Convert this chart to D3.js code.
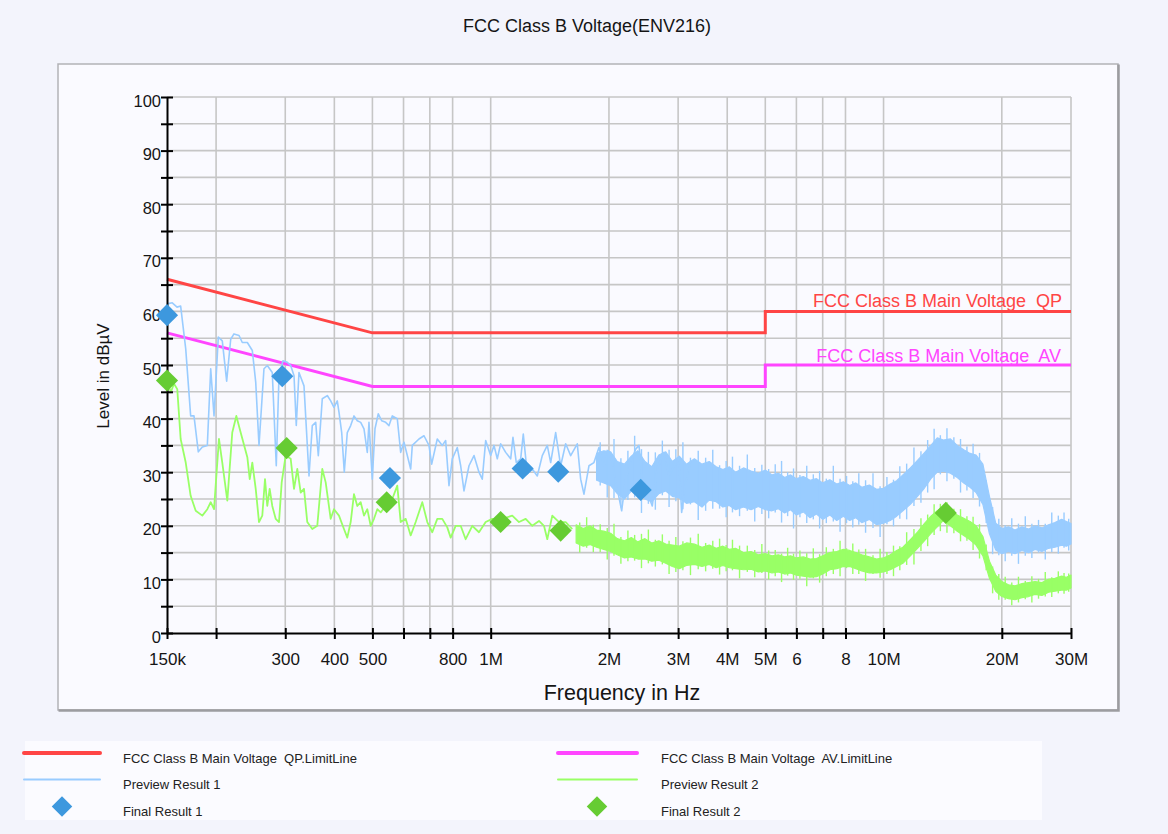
<!DOCTYPE html>
<html>
<head>
<meta charset="utf-8">
<script src="https://cdn.jsdelivr.net/npm/d3@7"></script>
<style>
  html, body { margin: 0; padding: 0; background: #f3f4fc; }
  svg { display: block; font-family: "Liberation Sans", Arial, Helvetica, sans-serif; }
</style>
</head>
<body>
<svg id="chart" width="1168" height="834"></svg>
<script>
// ---------------- data (frequencies in MHz, levels in dBµV) ----------------
const titleText = "FCC Class B Voltage(ENV216)";

const xTickValues = [0.15, 0.2, 0.3, 0.4, 0.5, 0.6, 0.7, 0.8, 1, 2, 3, 4, 5, 6, 7, 8, 10, 20, 30];
const xTickText   = ["150k", "", "300", "400", "500", "", "", "800", "1M", "2M", "3M", "4M", "5M", "6", "", "8", "10M", "20M", "30M"];
const yTickValues = [0, 5, 10, 15, 20, 25, 30, 35, 40, 45, 50, 55, 60, 65, 70, 75, 80, 85, 90, 95, 100];
const yTickText   = ["0", "", "10", "", "20", "", "30", "", "40", "", "50", "", "60", "", "70", "", "80", "", "90", "", "100"];

// limit lines
const limitQPFreq  = [0.15, 0.5, 5, 5, 30];
const limitQPLevel = [66, 56, 56, 60, 60];
const limitAVFreq  = [0.15, 0.5, 5, 5, 30];
const limitAVLevel = [56, 46, 46, 50, 50];

// Preview Result 1 (peak scan): individual sweep points
const preview1Freq = [0.150,0.1547,0.1591,0.1625,0.1674,0.1723,0.1757,0.1802,0.1845,0.190,
  0.1938,0.1976,0.2026,0.2074,0.2128,0.2179,0.2221,0.2288,0.2332,0.2402,
  0.2473,0.2523,0.2572,0.2648,0.270,0.278,0.2846,0.2892,0.296,0.3036,
  0.3097,0.3158,0.320,0.3251,0.3348,0.3448,0.3515,0.3586,0.3641,0.3727,
  0.3838,0.3915,0.3991,0.4069,0.411,0.4176,0.424,0.4315,0.4402,0.4488,
  0.4576,0.4668,0.4759,0.4852,0.490,0.4996,0.5076,0.5175,0.5279,0.5404,
  0.551,0.5617,0.5784,0.5901,0.6016,0.6257,0.6316,0.6569,0.6764,0.6965,
  0.7076,0.7312,0.753,0.7681,0.7832,0.7984,0.8222,0.8387,0.8551,0.8806,
  0.9068,0.9337,0.9519,0.9711,1.000,1.0195,1.0394,1.0604,1.0919,1.1244,
  1.1395,1.1619,1.1922,1.2105,1.2393,1.2761,1.314,1.3531,1.3933,1.4214,
  1.4636,1.5071,1.5519,1.5981,1.6611,1.6944,1.7275,1.7789,1.8317,1.8862,
  1.9423,1.992,2.0392,2.0999,2.1548,2.2058,2.2714,2.339,2.3848,2.4313,
  2.5036,2.578,2.6547,2.761,2.8432,2.9277,3.0147,3.0627,3.1353,3.2285];
const preview1Level = [61.4,61.6,60.8,61,53,40.5,40.5,33.8,34.7,35,
  49.3,40.5,55.2,54.5,47,54.8,55.8,55.5,54.2,54.2,
  52.7,46.8,35,49.3,49.9,48.6,31.2,48,50.8,50.5,
  49.9,48,38.7,48.6,46.1,29.3,38.7,39.3,33.1,43.7,
  44.3,43.3,42.1,43.3,41.2,37.4,30,37.4,38.7,40.5,
  39.6,39.3,38.1,33.7,39.3,28.7,38.1,40.9,39.6,39.3,
  38.7,40.5,40.0,33.7,35.6,30.6,35,36.2,36.8,35,
  31.5,36.2,35,35.9,27.5,32.5,34.6,31.2,26.5,31.2,
  33.1,30,28.7,35.9,33.1,35,32.5,35.3,33.7,32.5,
  36.5,31.8,32.5,37.1,29.7,30.6,29.3,33.1,35,31.8,
  37.4,31.2,35.3,33.1,35.3,28.7,25.9,31.2,31.8,34.6,
  31.2,34,31.8,26.9,22.8,28.7,31.8,34.3,35,28.7,
  26.2,23.7,30.6,33.7,29.3,31.2,31.8,22.5,28.1,32.1];

// Preview Result 1: dense upper band, min/max envelope per frequency
const preview1BandFreq = [1.86,1.94,2.02,2.1,2.19,2.28,2.37,2.47,2.57,2.68,2.79,2.9,3.02,3.15,
  3.3,3.45,3.6,3.75,3.9,4.05,4.2,4.4,4.6,4.8,5.0,5.2,5.4,5.6,5.8,6.0,6.25,6.5,6.75,7.0,
  7.3,7.6,7.9,8.2,8.5,8.8,9.2,9.6,10.0,10.4,10.8,11.2,11.7,12.2,12.7,13.2,13.7,14.2,14.8,15.4,
  16.0,16.6,17.2,17.9,18.6,19.3,20.0,20.8,21.6,22.5,23.4,24.3,25.3,26.3,27.3,28.4,29.2,30.0];
const preview1BandHigh = [33.5,34.0,33.8,32.0,31.5,33.0,34.0,32.0,31.0,33.2,33.8,32.0,33.0,31.5,
  32.5,31.5,32.0,31.0,30.5,31.0,30.0,30.8,30.2,29.8,30.4,29.5,29.8,29.0,29.5,28.8,29.2,28.5,28.8,28.0,
  28.6,27.8,28.2,27.5,28.0,27.2,27.6,26.8,27.0,27.8,28.4,29.5,30.8,32.2,33.6,35.0,36.4,36.0,36.2,35.0,
  34.2,33.5,33.2,31.5,25.5,20.5,19.5,19.8,19.2,19.8,19.4,20.0,19.6,20.2,20.6,21.2,20.8,20.4];
const preview1BandLow = [28.5,28.0,27.5,26.0,25.0,26.5,26.8,25.0,24.5,26.0,26.5,25.5,25.2,24.2,
  24.5,23.5,24.8,24.5,23.5,23.8,23.0,23.5,23.0,23.6,23.0,22.8,23.2,22.4,23.0,22.0,22.6,21.5,22.2,21.2,
  22.0,21.0,21.8,21.0,21.5,20.6,21.2,20.2,20.5,21.0,21.8,22.8,24.0,25.5,27.0,28.8,30.0,30.2,29.8,29.0,
  28.0,27.2,26.2,24.0,18.5,15.5,14.8,15.2,14.8,15.4,15.0,15.6,15.2,15.8,16.0,16.4,16.2,16.6];
// Preview Result 1: noise spikes reaching past the band
const preview1SpikeFreq = [1.90,1.98,2.06,2.145,2.235,2.325,2.42,2.52,2.625,2.735,
  2.845,2.96,3.085,3.225,3.375,3.525,3.675,3.825,3.975,4.125,
  4.3,4.5,4.7,4.9,5.1,5.3,5.5,5.7,5.9,6.125,
  6.375,6.625,6.875,7.15,7.45,7.75,8.05,8.35,8.65,9.0,
  9.4,9.8,10.2,10.6,11.0,11.45,11.95,12.45,12.95,13.45,
  13.95,14.5,15.1,15.7,16.3,16.9,17.55,18.25,18.95,19.65,
  20.4,21.2,22.05,22.95,23.85,24.8,25.8,26.8,27.85,28.8,29.6];
const preview1SpikeHigh = [35.6,34.2,36.2,32.6,34.0,36.8,34.3,33.8,33.7,35.9,
  34.2,34.3,35.6,32.7,34.0,32.7,34.2,31.3,32.1,32.9,
  31.2,33.3,30.8,31.4,30.6,31.5,32.1,30.0,30.7,29.5,
  31.2,29.6,30.2,28.8,31.2,28.8,29.3,28.3,29.8,28.5,
  29.8,27.4,29.1,28.6,31.1,31.6,34.6,33.9,36.0,38.1,
  36.9,38.2,36.5,36.2,34.8,35.3,33.6,28.5,23.5,21.3,
  20.1,21.4,20.4,21.8,20.4,21.1,20.4,22.5,21.9,22.5,21.3];
const preview1SpikeLow = [27.5,25.3,25.2,23.4,24.8,25.3,22.4,24.1,23.0,25.7,
  23.5,24.6,23.1,24.0,21.1,22.8,23.2,23.2,21.6,22.5,
  21.8,22.8,20.8,22.2,21.4,22.5,20.6,21.8,19.5,21.6,
  20.5,21.2,19.5,20.5,20.8,18.9,20.5,19.7,20.2,18.7,
  19.6,17.9,20.3,19.9,21.3,21.2,23.7,24.3,26.2,26.8,
  29.6,28.3,28.8,26.2,26.6,25.2,23.6,20.5,14.7,14.5,
  13.4,14.4,12.9,14.4,14.0,15.0,13.7,15.1,14.8,15.9,15.4];

// Preview Result 2 (average scan): individual sweep points
const preview2Freq = [0.150,0.1533,0.1563,0.1593,0.1625,0.1674,0.1723,0.1775,0.1845,0.190,
  0.1938,0.1976,0.2034,0.2074,0.2136,0.2199,0.2252,0.231,0.2402,0.2436,
  0.2473,0.2523,0.2572,0.2622,0.2664,0.270,0.2738,0.278,0.2836,0.2892,
  0.2938,0.3007,0.3097,0.3158,0.3219,0.3284,0.3348,0.3413,0.3515,0.3619,
  0.3727,0.3802,0.3915,0.3991,0.411,0.4232,0.4315,0.4402,0.4488,0.4576,
  0.4668,0.4759,0.4852,0.4949,0.5046,0.5145,0.5248,0.5404,0.5617,0.5784,
  0.5901,0.6076,0.6257,0.6443,0.6697,0.6896,0.7101,0.7312,0.753,0.7754,
  0.791,0.8145,0.8387,0.8636,0.8977,0.9337,0.9711,1.0094,1.0703,1.1348,
  1.1803,1.2277,1.2761,1.3272,1.3667,1.3933,1.4347,1.4922,1.5519,1.6131];
const preview2Level = [47.4,44.9,46.5,45.5,36.2,31.8,25.6,22.8,21.9,23.1,
  24.4,23.1,36.2,31.8,24.7,37.4,40.5,37.4,32.8,28.7,
  31.8,26.9,20.7,21.9,28.7,23.7,26.9,23.7,21.3,20.7,
  28.1,33.1,32.5,26.9,30.6,26.2,26.9,20.7,19.4,20,
  30.6,28.1,21.3,23.1,21.9,19.4,17.8,20.7,25.9,23.7,
  24.4,21.9,23.1,20,21.3,23.1,22.5,23.7,25,27.5,
  20.7,21.3,18.2,20.7,24.4,20.7,18.8,21.3,21.3,19.7,
  17.8,20,20,17.5,20,18.8,20.7,21.3,21.3,21.9,
  20.7,21.3,20,20.9,20,17.5,21.9,20.7,20.7,19.4];

// Preview Result 2: dense upper band, min/max envelope per frequency
const preview2BandFreq = [1.65,1.72,1.79,1.86,1.94,2.02,2.1,2.19,2.28,2.37,2.47,2.57,2.68,2.79,2.9,3.02,3.15,
  3.3,3.45,3.6,3.75,3.9,4.05,4.2,4.4,4.6,4.8,5.0,5.2,5.4,5.6,5.8,6.0,6.25,6.5,6.75,7.0,
  7.3,7.6,7.9,8.2,8.5,8.8,9.2,9.6,10.0,10.4,10.8,11.2,11.7,12.2,12.7,13.2,13.7,14.2,14.8,15.4,
  16.0,16.6,17.2,17.9,18.6,19.3,20.0,20.8,21.6,22.5,23.4,24.3,25.3,26.3,27.3,28.4,29.2,30.0];
const preview2BandHigh = [20.2,19.5,20.0,19.2,19.0,18.6,17.6,17.2,17.8,17.0,17.6,16.8,17.2,16.6,16.4,16.2,16.8,
  16.6,16.0,16.4,15.8,16.2,15.6,15.8,15.0,15.2,14.6,14.8,14.4,14.6,14.2,14.4,14.0,14.2,13.8,13.9,14.4,
  15.0,15.2,15.6,15.4,15.0,14.6,14.2,13.8,14.0,14.6,15.4,16.0,17.4,18.8,20.4,21.8,22.8,23.6,23.0,22.0,
  21.4,20.8,20.0,18.0,13.4,10.8,9.6,9.0,8.8,9.2,9.4,9.6,9.4,10.0,10.2,10.6,10.4,10.8];
const preview2BandLow = [16.8,16.2,16.5,16.0,15.6,15.2,14.6,14.0,14.2,13.8,13.8,13.4,13.6,13.0,12.4,12.0,12.6,
  12.8,12.4,12.8,12.2,12.6,12.2,12.0,11.8,11.9,11.4,11.6,11.2,11.4,11.0,11.2,10.8,10.6,10.4,10.5,11.0,
  11.8,12.0,12.4,12.4,12.0,11.6,11.2,11.2,11.4,11.8,12.4,13.0,14.4,15.8,17.2,18.6,19.8,21.0,20.0,19.0,
  18.2,17.4,16.4,14.4,10.2,7.8,6.8,6.4,6.2,6.6,6.8,7.2,7.0,7.6,7.8,8.0,8.0,8.4];
// Preview Result 2: noise spikes reaching past the band
const preview2SpikeFreq = [1.685,1.755,1.825,
  1.90,1.98,2.06,2.145,2.235,2.325,2.42,2.52,2.625,2.735,
  2.845,2.96,3.085,3.225,3.375,3.525,3.675,3.825,3.975,4.125,
  4.3,4.5,4.7,4.9,5.1,5.3,5.5,5.7,5.9,6.125,
  6.375,6.625,6.875,7.15,7.45,7.75,8.05,8.35,8.65,9.0,
  9.4,9.8,10.2,10.6,11.0,11.45,11.95,12.45,12.95,13.45,
  13.95,14.5,15.1,15.7,16.3,16.9,17.55,18.25,18.95,19.65,
  20.4,21.2,22.05,22.95,23.85,24.8,25.8,26.8,27.85,28.8,29.6];
const preview2SpikeHigh = [20.6,21.6,20.2,
  20.3,19.6,20.4,17.9,19.1,18.3,18.5,19.3,17.4,18.4,
  17.2,17.9,17.1,17.8,18.5,16.8,17.2,17.6,16.4,17.4,
  16.3,16.3,15.5,16.6,15.4,15.5,14.8,15.9,14.8,15.4,
  14.9,15.8,14.7,16.0,15.7,17.2,15.8,16.7,15.6,15.7,
  14.5,15.7,15.1,16.3,16.2,18.8,19.4,21.4,22.1,24.0,
  24.1,24.4,23.2,23.1,21.8,21.7,20.3,16.5,12.4,11.0,
  10.5,9.4,10.5,9.7,10.6,10.1,11.4,10.4,11.5,11.2,11.1];
const preview2SpikeLow = [15.0,15.9,15.1,
  15.1,13.7,14.4,12.9,13.4,13.5,12.1,13.0,12.4,12.8,
  11.0,11.4,11.7,10.8,11.9,11.5,12.0,10.9,11.5,11.7,
  10.2,11.4,10.4,11.2,10.0,10.6,9.5,10.7,9.9,10.1,
  8.7,10.2,9.4,10.6,11.0,10.6,12.1,11.0,11.0,9.7,
  11.0,10.3,11.0,10.6,11.7,12.7,12.8,15.3,16.2,18.3,
  19.0,18.7,18.6,17.1,17.2,15.5,13.9,11.7,7.4,6.2,
  6.2,5.2,5.7,6.3,5.7,6.4,6.8,6.7,7.4,7.3,7.7];

// Final measurements
const final1Freq  = [0.150, 0.2948, 0.554, 1.206, 1.486, 2.409];
const final1Level = [59.3, 47.9, 28.9, 30.7, 30.1, 26.7];
const final2Freq  = [0.150, 0.3025, 0.5436, 1.060, 1.507, 14.4];
const final2Level = [47.1, 34.5, 24.4, 20.7, 19.1, 22.4];

// ---------------- drawing ----------------
const svg = d3.select("#chart");
const C = {
  qp: "#ff4545", av: "#ff45ff",
  pre1: "#99ccff", pre2: "#99ff66",
  fin1: "#3d98de", fin2: "#66cc33",
  grid: "#c6c6c6", text: "#151515"
};

const x = d3.scaleLog().domain([0.15, 30]).range([167, 1071]);
const y = d3.scaleLinear().domain([0, 100]).range([633, 97]);

// page + frame
svg.append("rect").attr("width", 1168).attr("height", 834).attr("fill", "#f3f4fc");
svg.append("rect").attr("x", 58).attr("y", 64).attr("width", 1060).attr("height", 646)
  .attr("fill", "#fafaff").attr("stroke", "#b2b2b6").attr("stroke-width", 1.5);
svg.append("path").attr("d", "M1118.5,64.5V710.5H58.5")
  .attr("fill", "none").attr("stroke", "#9c9ca0").attr("stroke-width", 2.5);

// title
svg.append("text").attr("x", 587).attr("y", 32).attr("text-anchor", "middle")
  .attr("font-size", 18).attr("fill", C.text).text(titleText);

// grid
const grid = svg.append("g");
grid.selectAll("line.h").data(yTickValues.filter(v => v > 0)).join("line")
  .attr("x1", x(0.15)).attr("x2", x(30))
  .attr("y1", d => y(d)).attr("y2", d => y(d))
  .attr("stroke", C.grid).attr("stroke-width", 1.6);
grid.selectAll("line.v").data(xTickValues.filter(v => v > 0.15)).join("line")
  .attr("x1", d => x(d)).attr("x2", d => x(d))
  .attr("y1", y(0)).attr("y2", y(100))
  .attr("stroke", C.grid).attr("stroke-width", 1.6);

const line = d3.line().x(d => x(d[0])).y(d => y(d[1]));
const area = d3.area().x(d => x(d[0])).y0(d => y(d[1])).y1(d => y(d[2]));

// limit lines
svg.append("path").datum(d3.zip(limitQPFreq, limitQPLevel)).attr("d", line)
  .attr("fill", "none").attr("stroke", C.qp).attr("stroke-width", 3);
svg.append("path").datum(d3.zip(limitAVFreq, limitAVLevel)).attr("d", line)
  .attr("fill", "none").attr("stroke", C.av).attr("stroke-width", 3);

// one preview trace: envelope band + spikes + individual sweep line
function drawPreview(color, bandF, bandLo, bandHi, spF, spLo, spHi, f, lv, lineW) {
  const g = svg.append("g");
  g.append("path").datum(d3.zip(bandF, bandLo, bandHi)).attr("d", area)
    .attr("fill", color).attr("stroke", color).attr("stroke-width", 1.2).attr("stroke-linejoin", "round");
  g.selectAll("line").data(d3.zip(spF, spLo, spHi)).join("line")
    .attr("x1", d => x(d[0])).attr("x2", d => x(d[0]))
    .attr("y1", d => y(d[1])).attr("y2", d => y(d[2]))
    .attr("stroke", color).attr("stroke-width", 1.4);
  g.append("path").datum(d3.zip(f, lv)).attr("d", line)
    .attr("fill", "none").attr("stroke", color).attr("stroke-width", lineW).attr("stroke-linejoin", "round");
}
drawPreview(C.pre1, preview1BandFreq, preview1BandLow, preview1BandHigh,
  preview1SpikeFreq, preview1SpikeLow, preview1SpikeHigh, preview1Freq, preview1Level, 1.6);
drawPreview(C.pre2, preview2BandFreq, preview2BandLow, preview2BandHigh,
  preview2SpikeFreq, preview2SpikeLow, preview2SpikeHigh, preview2Freq, preview2Level, 1.8);

// limit labels
svg.append("text").attr("x", 1062).attr("y", 307).attr("text-anchor", "end")
  .attr("font-size", 18).attr("fill", C.qp).style("white-space", "pre")
  .text("FCC Class B Main Voltage  QP");
svg.append("text").attr("x", 1061).attr("y", 361.5).attr("text-anchor", "end")
  .attr("font-size", 18).attr("fill", C.av).style("white-space", "pre")
  .text("FCC Class B Main Voltage  AV");

// axes
const xAxis = svg.append("g").attr("transform", `translate(0,${y(0)})`)
  .call(d3.axisBottom(x).tickValues(xTickValues).tickFormat((d, i) => xTickText[i]).tickSizeOuter(0));
xAxis.select(".domain").attr("stroke", "#000").attr("stroke-width", 2);
xAxis.selectAll(".tick line").attr("y1", -5).attr("y2", 6).attr("stroke", "#000").attr("stroke-width", 2);
xAxis.selectAll(".tick text").attr("y", 32).attr("dy", null)
  .attr("font-size", 17).attr("font-weight", "normal")
  .attr("font-family", "Liberation Sans, Arial, sans-serif").attr("fill", C.text);

const yAxis = svg.append("g").attr("transform", `translate(${x(0.15)},0)`)
  .call(d3.axisLeft(y).tickValues(yTickValues).tickFormat((d, i) => yTickText[i]).tickSizeOuter(0));
yAxis.select(".domain").attr("stroke", "#000").attr("stroke-width", 2);
yAxis.selectAll(".tick line").attr("x1", -6).attr("x2", 6).attr("stroke", "#000").attr("stroke-width", 2);
yAxis.selectAll(".tick text").attr("x", -6).attr("y", 9).attr("dy", null)
  .attr("font-size", 16.5).attr("font-weight", "normal")
  .attr("font-family", "Liberation Sans, Arial, sans-serif").attr("fill", C.text);

// axis titles
svg.append("text").attr("transform", "translate(109,376) rotate(-90)").attr("text-anchor", "middle")
  .attr("font-size", 17).attr("fill", C.text).text("Level in dBµV");
svg.append("text").attr("x", 622).attr("y", 700).attr("text-anchor", "middle")
  .attr("font-size", 21.5).attr("fill", C.text).text("Frequency in Hz");

// final result markers (diamonds)
const diamond = d3.symbol(d3.symbolSquare, 245)();
svg.append("g").selectAll("path").data(d3.zip(final1Freq, final1Level)).join("path")
  .attr("d", diamond).attr("transform", d => `translate(${x(d[0])},${y(d[1])}) rotate(45)`)
  .attr("fill", C.fin1);
svg.append("g").selectAll("path").data(d3.zip(final2Freq, final2Level)).join("path")
  .attr("d", diamond).attr("transform", d => `translate(${x(d[0])},${y(d[1])}) rotate(45)`)
  .attr("fill", C.fin2);

// legend
svg.append("rect").attr("x", 25).attr("y", 741).attr("width", 1017).attr("height", 79).attr("fill", "#fbfbff");
const legendItems = [
  { label: "FCC Class B Main Voltage  QP.LimitLine", kind: "line", color: C.qp, w: 4, col: 0, row: 0 },
  { label: "Preview Result 1", kind: "line", color: C.pre1, w: 2, col: 0, row: 1 },
  { label: "Final Result 1", kind: "mark", color: C.fin1, col: 0, row: 2 },
  { label: "FCC Class B Main Voltage  AV.LimitLine", kind: "line", color: C.av, w: 4, col: 1, row: 0 },
  { label: "Preview Result 2", kind: "line", color: C.pre2, w: 2, col: 1, row: 1 },
  { label: "Final Result 2", kind: "mark", color: C.fin2, col: 1, row: 2 }
];
const colX = [{ l0: 24, l1: 100, m: 62, t: 123 }, { l0: 558, l1: 637, m: 597, t: 661 }];
const rowY = [753, 779.5, 806.5];
const legendDiamond = d3.symbol(d3.symbolSquare, 210)();
const lg = svg.append("g");
legendItems.forEach(it => {
  const cx = colX[it.col], ry = rowY[it.row];
  if (it.kind === "line") {
    lg.append("line").attr("x1", cx.l0).attr("x2", cx.l1).attr("y1", ry).attr("y2", ry)
      .attr("stroke", it.color).attr("stroke-width", it.w).attr("stroke-linecap", "round");
  } else {
    lg.append("path").attr("d", legendDiamond).attr("transform", `translate(${cx.m},${ry}) rotate(45)`)
      .attr("fill", it.color);
  }
  lg.append("text").attr("x", cx.t).attr("y", ry + 9.5).attr("font-size", 13).attr("fill", "#222")
    .style("white-space", "pre").text(it.label);
});
</script>
</body>
</html>
